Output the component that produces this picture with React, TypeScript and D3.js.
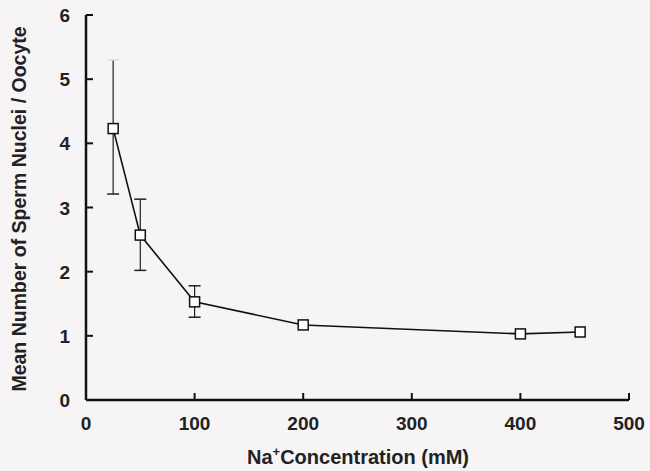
import React from "react";
import * as d3 from "d3";

const concentrations = [25, 50, 100, 200, 400, 455];
const meanNuclei = [4.23, 2.57, 1.53, 1.17, 1.03, 1.06];
const errUpper = [5.3, 3.13, 1.78, null, null, null];
const errLower = [3.21, 2.02, 1.29, null, null, null];
const xTicks = [0, 100, 200, 300, 400, 500];
const yTicks = [0, 1, 2, 3, 4, 5, 6];

const W = 650;
const H = 471;
const FONT = "'Liberation Sans', Arial, Helvetica, sans-serif";

export default function App() {
  const x = d3.scaleLinear().domain([0, 500]).range([86, 629]);
  const y = d3.scaleLinear().domain([0, 6]).range([400, 15]);
  const pts = concentrations.map((c, i) => [x(c), y(meanNuclei[i])] as [number, number]);
  const line = d3.line()(pts) || "";
  const sq = 10;
  return (
    <svg width={W} height={H} style={{ position: "absolute", left: 0, top: 0, background: "#f6f4f5" }}>
      <rect x={0} y={0} width={W} height={H} fill="#f6f4f5" />
      <line x1={x(0)} x2={x(0)} y1={y(6)} y2={y(0)} stroke="#111" strokeWidth={2.5} />
      <line x1={x(0)} x2={x(500)} y1={y(0)} y2={y(0)} stroke="#111" strokeWidth={2.5} />
      {yTicks.map((t) => (
        <g key={"y" + t}>
          <line x1={x(0)} x2={x(0) + 7} y1={y(t)} y2={y(t)} stroke="#111" strokeWidth={2} />
          <text x={70} y={y(t) + 7} textAnchor="end" fontFamily={FONT} fontWeight="bold" fontSize={19} fill="#222">
            {t}
          </text>
        </g>
      ))}
      {xTicks.map((t) => (
        <g key={"x" + t}>
          <line x1={x(t)} x2={x(t)} y1={y(0)} y2={y(0) - 7} stroke="#111" strokeWidth={2} />
          <text x={x(t)} y={430} textAnchor="middle" fontFamily={FONT} fontWeight="bold" fontSize={19} fill="#222">
            {t}
          </text>
        </g>
      ))}
      {concentrations.map((c, i) => {
        const u = errUpper[i];
        const l = errLower[i];
        if (u == null || l == null) return null;
        const cx = x(c);
        return (
          <g key={"e" + i}>
            <line x1={cx} x2={cx} y1={y(u)} y2={y(meanNuclei[i]) - sq / 2} stroke="#222" strokeWidth={1.2} />
            <line x1={cx} x2={cx} y1={y(meanNuclei[i]) + sq / 2} y2={y(l)} stroke="#222" strokeWidth={1.2} />
            <line x1={cx - 6} x2={cx + 6} y1={y(u)} y2={y(u)} stroke={i === 0 ? "#ddd" : "#222"} strokeWidth={1.5} />
            <line x1={cx - 6} x2={cx + 6} y1={y(l)} y2={y(l)} stroke="#222" strokeWidth={1.5} />
          </g>
        );
      })}
      <path d={line} fill="none" stroke="#111" strokeWidth={1.6} />
      {pts.map((p, i) => (
        <rect key={"p" + i} x={p[0] - sq / 2} y={p[1] - sq / 2} width={sq} height={sq} fill="#fff" stroke="#111" strokeWidth={1.5} />
      ))}
      <text
        transform={`translate(26, 209) rotate(-90)`}
        textAnchor="middle"
        fontFamily={FONT}
        fontWeight="bold"
        fontSize={19.5}
        fill="#222"
      >
        Mean Number of Sperm Nuclei / Oocyte
      </text>
      <text x={358} y={464} textAnchor="middle" fontFamily={FONT} fontWeight="bold" fontSize={20} fill="#222">
        Na<tspan dy={-8} fontSize={13}>+</tspan><tspan dy={8}>Concentration (mM)</tspan>
      </text>
    </svg>
  );
}
